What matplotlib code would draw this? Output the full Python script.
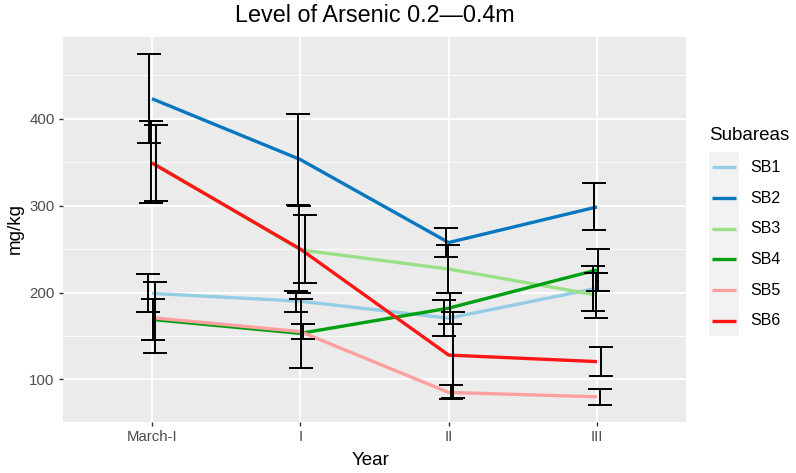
import matplotlib
matplotlib.use("Agg")
import matplotlib.pyplot as plt
from matplotlib.ticker import MultipleLocator
import numpy as np

plt.rcParams['font.family'] = ['Liberation Sans', 'DejaVu Sans']

categories = ['March-I', 'I', 'II', 'III']
series_names = ['SB1', 'SB2', 'SB3', 'SB4', 'SB5', 'SB6']
sb1_mean = [199, 190, 170.5, 205]
sb1_err = [22, 12, 21, 26]
sb2_mean = [423, 353, 257.5, 298.5]
sb2_err = [51, 52, 17, 27]
sb3_mean = [350, 249, 227, 197]
sb3_err = [47, 50, 28, 26]
sb4_mean = [169, 153, 182, 226]
sb4_err = [24, 40, 18, 24]
sb5_mean = [171, 155, 85, 80]
sb5_err = [41, 9, 8, 9.5]
sb6_mean = [349, 250, 128, 120.5]
sb6_err = [44, 39, 49, 16.5]

means = [sb1_mean, sb2_mean, sb3_mean, sb4_mean, sb5_mean, sb6_mean]
errs = [sb1_err, sb2_err, sb3_err, sb4_err, sb5_err, sb6_err]
colors = ['#95CDE6', '#0778C0', '#99E088', '#00A012', '#FFA0A0', '#FF1515']

W, H = 796, 473
fig = plt.figure(figsize=(W/100, H/100), dpi=100)
ax = fig.add_axes([63/W, 1-422/H, (686-63)/W, (422-37)/H])
ax.set_facecolor('#EBEBEB')
for s in ax.spines.values():
    s.set_visible(False)

x = np.arange(len(categories))
for i, (m, e, c) in enumerate(zip(means, errs, colors)):
    ax.plot(x, m, color=c, lw=2.4, zorder=3, solid_capstyle='butt')
for i, (m, e) in enumerate(zip(means, errs)):
    off = (i - 2.5) * 0.012
    ax.errorbar(x + off, m, yerr=e, fmt='none', ecolor='black', elinewidth=1.4,
                capsize=8.6, capthick=1.4, zorder=4)

ax.set_xlim(-0.6, 3.6)
ax.set_ylim(51, 494)
ax.set_xticks(x)
ax.set_xticklabels(categories)
ax.yaxis.set_major_locator(MultipleLocator(100))
ax.yaxis.set_minor_locator(MultipleLocator(50))
ax.grid(which='major', color='white', lw=1.3, zorder=0)
ax.grid(which='minor', axis='y', color='white', lw=0.6, zorder=0)
ax.set_axisbelow(True)
ax.tick_params(which='major', length=3, width=1, color='#333333', labelcolor='#4D4D4D',
               labelsize=10.8, pad=3)
ax.tick_params(which='minor', length=0)

fig.text(371/W, 1-460/H, 'Year', ha='center', va='center', fontsize=13.5, color='black')
fig.text(15/W, 1-229/H, 'mg/kg', ha='center', va='center', rotation=90,
         fontsize=13.5, color='black')
fig.text((63+686)/2/W, 1-16/H, 'Level of Arsenic 0.2\u20140.4m', ha='center', va='center',
         fontsize=16.8, color='black')

# legend
fig.text(709/W, 1-140.5/H, 'Subareas', ha='left', va='baseline', fontsize=13.5, color='black')
lax = fig.add_axes([709/W, 1-336/H, 30/W, (336-152)/H])
lax.set_xlim(0, 1)
lax.set_ylim(0, 6)
lax.set_facecolor('#F2F2F2')
for s in lax.spines.values():
    s.set_visible(False)
lax.set_xticks([])
lax.set_yticks([])
for i, (name, c) in enumerate(zip(series_names, colors)):
    yy = 5.5 - i
    lax.plot([0.1, 0.9], [yy, yy], color=c, lw=2.4, solid_capstyle='butt')
    lax.text(1.37, yy, name, ha='left', va='center', fontsize=11.5, color='black',
             transform=lax.transData, clip_on=False)

fig.savefig('out.png', dpi=100)
